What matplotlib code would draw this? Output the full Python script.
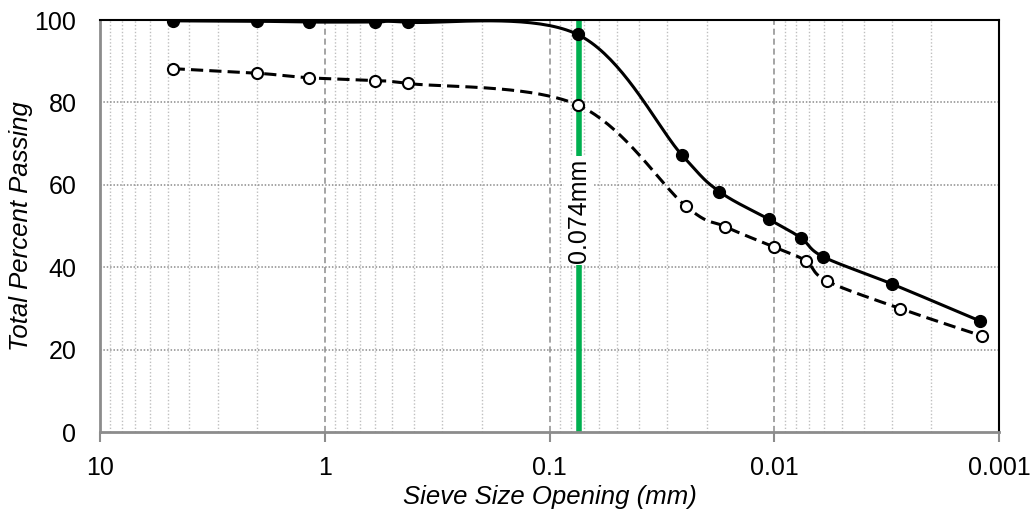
import numpy as np
import matplotlib
matplotlib.use("Agg")
import matplotlib.pyplot as plt
from matplotlib.ticker import FixedLocator, FixedFormatter, NullFormatter

# ---- data ----
sieve_size = [4.75, 2.0, 1.18, 0.6, 0.425, 0.075, 0.0258, 0.01756, 0.01059, 0.00763, 0.00607, 0.003002, 0.001215]
pass_solid = [99.8, 99.7, 99.5, 99.5, 99.45, 96.5, 67.3, 58.4, 51.7, 47.2, 42.6, 36.0, 27.0]

size_open = [4.75, 2.0, 1.18, 0.6, 0.425, 0.075, 0.0248, 0.01656, 0.0100, 0.00725, 0.00584, 0.00275, 0.001195]
pass_open = [88.2, 87.1, 86.0, 85.3, 84.6, 79.4, 54.9, 49.9, 44.9, 41.6, 36.7, 30.0, 23.4]

xticks = [10, 1, 0.1, 0.01, 0.001]
xtick_labels = ["10", "1", "0.1", "0.01", "0.001"]
yticks = [0, 20, 40, 60, 80, 100]
marker_size_mm = 0.074
marker_label = "0.074mm"

plt.rcParams['font.family'] = ['Liberation Sans', 'DejaVu Sans']

W, H = 1036, 512
fig = plt.figure(figsize=(W / 100, H / 100), dpi=100)
L, R, T, B = 100, 999, 20, 432.3
ax = fig.add_axes([L / W, (H - B) / H, (R - L) / W, (B - T) / H])

ax.set_xscale('log')
ax.set_xlim(10, 0.001)
ax.set_ylim(0, 100)

# pixel scale for smoothing (Excel-like bezier smoothing)
px_dec = (R - L) / 4.0
px_y = (B - T) / 100.0


def smooth(xs, ys, n=40):
    u = -np.log10(np.asarray(xs, float)) * px_dec
    v = np.asarray(ys, float) * px_y
    P = np.column_stack([u, v])
    out = []
    m = len(P)
    for i in range(m - 1):
        p0 = P[i - 1] if i > 0 else P[i]
        p1 = P[i]
        p2 = P[i + 1]
        p3 = P[i + 2] if i + 2 < m else P[i + 1]
        c1 = p1 + (p2 - p0) / 6.0
        c2 = p2 - (p3 - p1) / 6.0
        t = np.linspace(0, 1, n)[:, None]
        seg = ((1 - t) ** 3) * p1 + 3 * ((1 - t) ** 2) * t * c1 + 3 * (1 - t) * t ** 2 * c2 + t ** 3 * p2
        out.append(seg if i == 0 else seg[1:])
    S = np.vstack(out)
    return 10 ** (-S[:, 0] / px_dec), S[:, 1] / px_y


# grid
ax.xaxis.set_major_locator(FixedLocator(xticks))
ax.xaxis.set_major_formatter(FixedFormatter(xtick_labels))
minors = [m * 10.0 ** e for e in range(-3, 1) for m in range(2, 10)]
ax.xaxis.set_minor_locator(FixedLocator(minors))
ax.xaxis.set_minor_formatter(NullFormatter())
ax.set_yticks(yticks)

for xv in minors:
    ax.axvline(xv, color='#bfbfbf', lw=1.0, ls=(0, (1, 1.5)), zorder=0.5)
for xv in xticks[1:-1]:
    ax.axvline(xv, color='#8c8c8c', lw=1.1, ls=(0, (4, 2.5)), zorder=0.6)
for yv in yticks[1:-1]:
    ax.axhline(yv, color='#8c8c8c', lw=1.1, ls=(0, (1, 1.2)), zorder=0.6)

# green reference line with label
ax.axvline(marker_size_mm, color='#00b050', lw=4.0, zorder=2)
ax.text(marker_size_mm, 53.8, marker_label, rotation=90, ha='center', va='center',
        fontsize=18, color='black', zorder=3,
        bbox=dict(facecolor='white', edgecolor='none', pad=2))

# series
xs, ys = smooth(sieve_size, pass_solid)
ax.plot(xs, ys, color='black', lw=2.2, zorder=4, solid_capstyle='round')
ax.plot(sieve_size, pass_solid, ls='none', marker='o', ms=8.5, mfc='black', mec='black', zorder=5)

xo, yo = smooth(size_open, pass_open)
ax.plot(xo, yo, color='black', lw=2.2, ls=(0, (4, 2)), zorder=4)
ax.plot(size_open, pass_open, ls='none', marker='o', ms=8, mfc='white', mec='black', mew=1.5, zorder=5)

# spines
for s in ['left', 'bottom']:
    ax.spines[s].set_color('#8c8c8c')
    ax.spines[s].set_linewidth(2.0)
for s in ['top', 'right']:
    ax.spines[s].set_color('black')
    ax.spines[s].set_linewidth(1.5)

ax.tick_params(axis='x', which='major', direction='out', length=7, width=1.5, color='#8c8c8c',
               labelsize=18, pad=10)
ax.tick_params(axis='x', which='minor', length=0)
ax.tick_params(axis='y', which='major', length=0, labelsize=18, pad=17)

ax.set_xlabel('Sieve Size Opening (mm)', fontsize=18.5, style='italic', labelpad=4)
ax.set_ylabel('Total Percent Passing', fontsize=18.5, style='italic', labelpad=1)

fig.savefig('out.png', dpi=100)
